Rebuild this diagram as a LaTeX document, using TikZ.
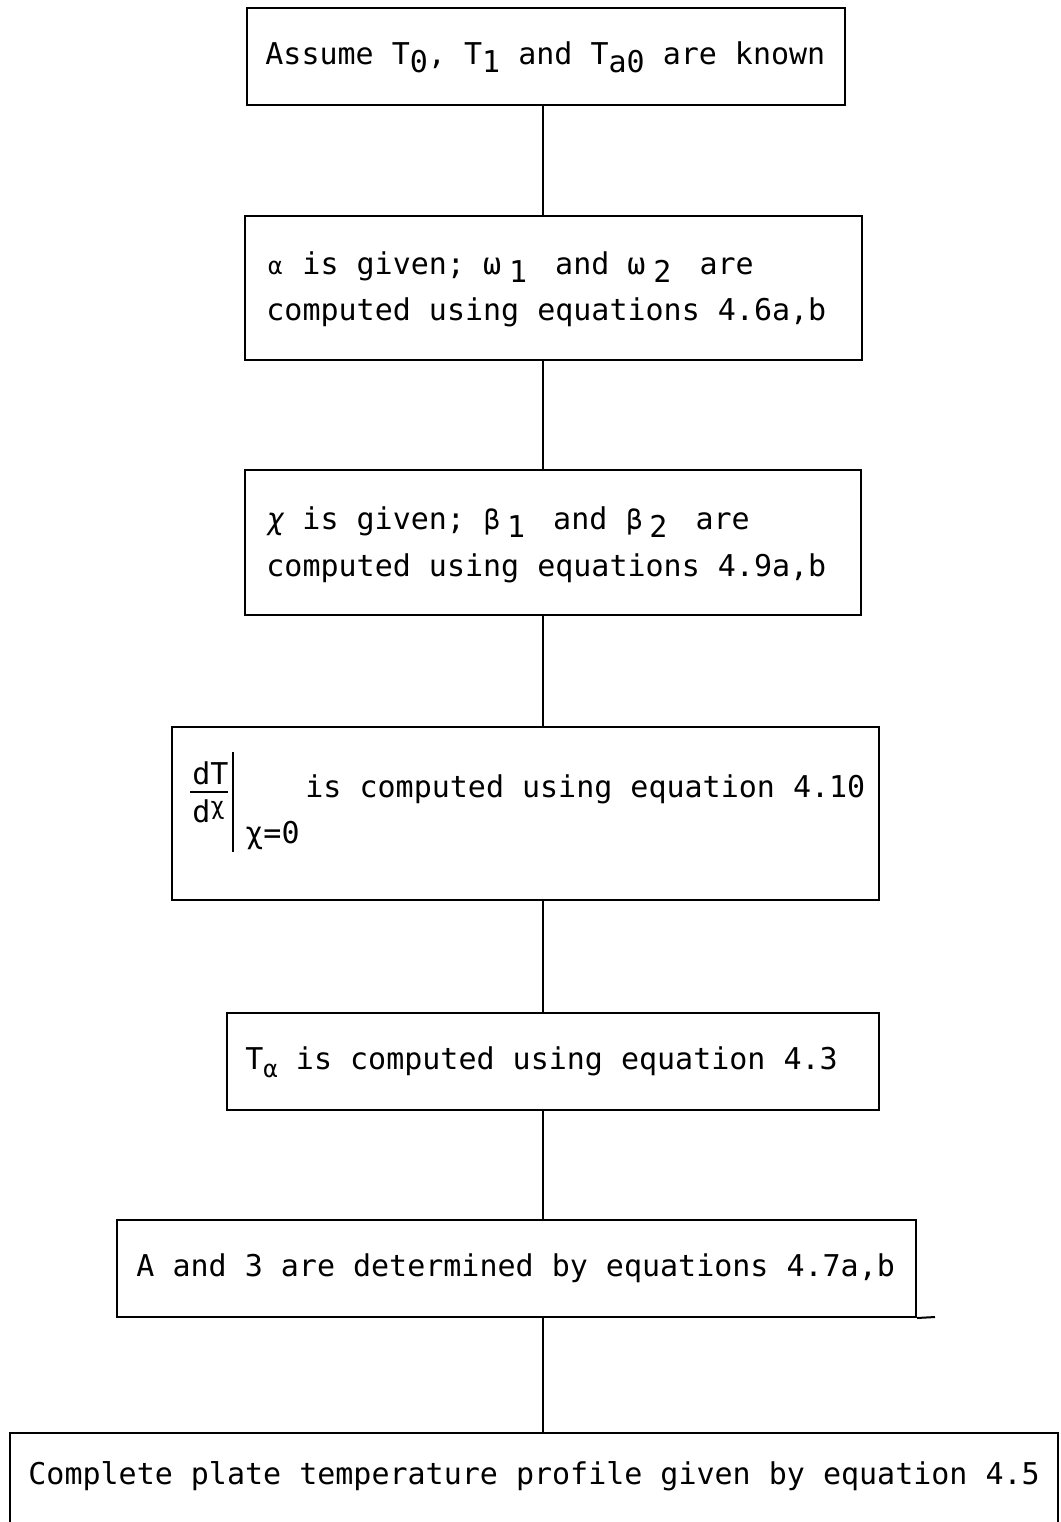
\documentclass[tikz,border=0pt]{standalone}
\usepackage{fontspec}
\newfontfamily\tw{DejaVu Sans Mono}
\newcommand\lo[1]{\raisebox{-4pt}{#1}}
\newcommand\gk[1]{{\fontsize{12}{12}\selectfont #1}}
\newcommand\gm[1]{{\fontsize{13.5}{13.5}\selectfont #1}}
\newcommand\cell[1]{\makebox[9pt][c]{#1}}
\begin{document}
\begin{tikzpicture}[x=0.5pt,y=-0.5pt,
  box/.style={draw, line width=1pt, minimum width=#1, inner sep=0pt},
  txt/.style={anchor=base west, inner sep=0pt, font=\tw\fontsize{15}{18}\selectfont},
  conn/.style={line width=1pt}]
\clip (0,0) rectangle (1061,1522);
\fill[white] (0,0) rectangle (1061,1522);
\coordinate (axis) at (543,0);
% boxes
\node[box=299pt, minimum height=48.5pt] (b1) at (546,56.5) {};
\node[box=308.5pt, minimum height=72pt] (b2) at (553.5,288) {};
\node[box=308pt, minimum height=72.5pt] (b3) at (553,542.5) {};
\node[box=353.5pt, minimum height=86.5pt] (b4) at (525.5,813.5) {};
\node[box=326pt, minimum height=48.5pt] (b5) at (553,1061.5) {};
\node[box=399.5pt, minimum height=48.5pt] (b6) at (516.5,1268.5) {};
\node[box=524pt, minimum height=50pt] (b7) at (534,1483) {};
% connectors
\draw[conn] (b1.south -| axis) -- (b2.north -| axis);
\draw[conn] (b2.south -| axis) -- (b3.north -| axis);
\draw[conn] (b3.south -| axis) -- (b4.north -| axis);
\draw[conn] (b4.south -| axis) -- (b5.north -| axis);
\draw[conn] (b5.south -| axis) -- (b6.north -| axis);
\draw[conn] (b6.south -| axis) -- (b7.north -| axis);
\coordinate (tick) at (935,1317);
\draw[conn] (b6.south east) -- (tick);
% texts
\node[txt] (t1) at (265,64) {Assume T\lo{0}, T\lo{1} and T\lo{a0} are known};
\node[txt] (t2a) at (266,274) {\cell{\gk{α}} is given; \cell{ω}\hspace{4pt}\lo{1}\hspace{5pt} and \cell{ω}\hspace{4pt}\lo{2}\hspace{5pt} are};
\node[txt] (t2b) at (266,320) {computed using equations 4.6a,b};
\node[txt] (t3a) at (266,529) {\cell{\itshape χ} is given; \cell{\gm{β}}\hspace{3pt}\lo{1}\hspace{5pt} and \cell{\gm{β}}\hspace{3pt}\lo{2}\hspace{5pt} are};
\node[txt] (t3b) at (266,576) {computed using equations 4.9a,b};
% derivative
\node[txt] (dT) at (192,784) {dT};
\node[txt] (dx) at (192,822) {d\raisebox{4pt}{\gk{χ}}};
\coordinate (barL) at (190,792);
\coordinate (barR) at (228,792);
\draw[line width=0.9pt] (barL) -- (barR);
\coordinate (vT) at (233,752);
\coordinate (vB) at (233,852);
\draw[line width=0.9pt] (vT) -- (vB);
\node[txt] (x0) at (245,843) {χ=0};
\node[txt] (t4) at (305,797) {is computed using equation 4.10};
\node[txt] (t5) at (245,1069) {T\lo{\gk{α}} is computed using equation 4.3};
\node[txt] (t6) at (136,1276) {A and 3 are determined by equations 4.7a,b};
\node[txt] (t7) at (28,1484) {Complete plate temperature profile given by equation 4.5};
\end{tikzpicture}
\end{document}
